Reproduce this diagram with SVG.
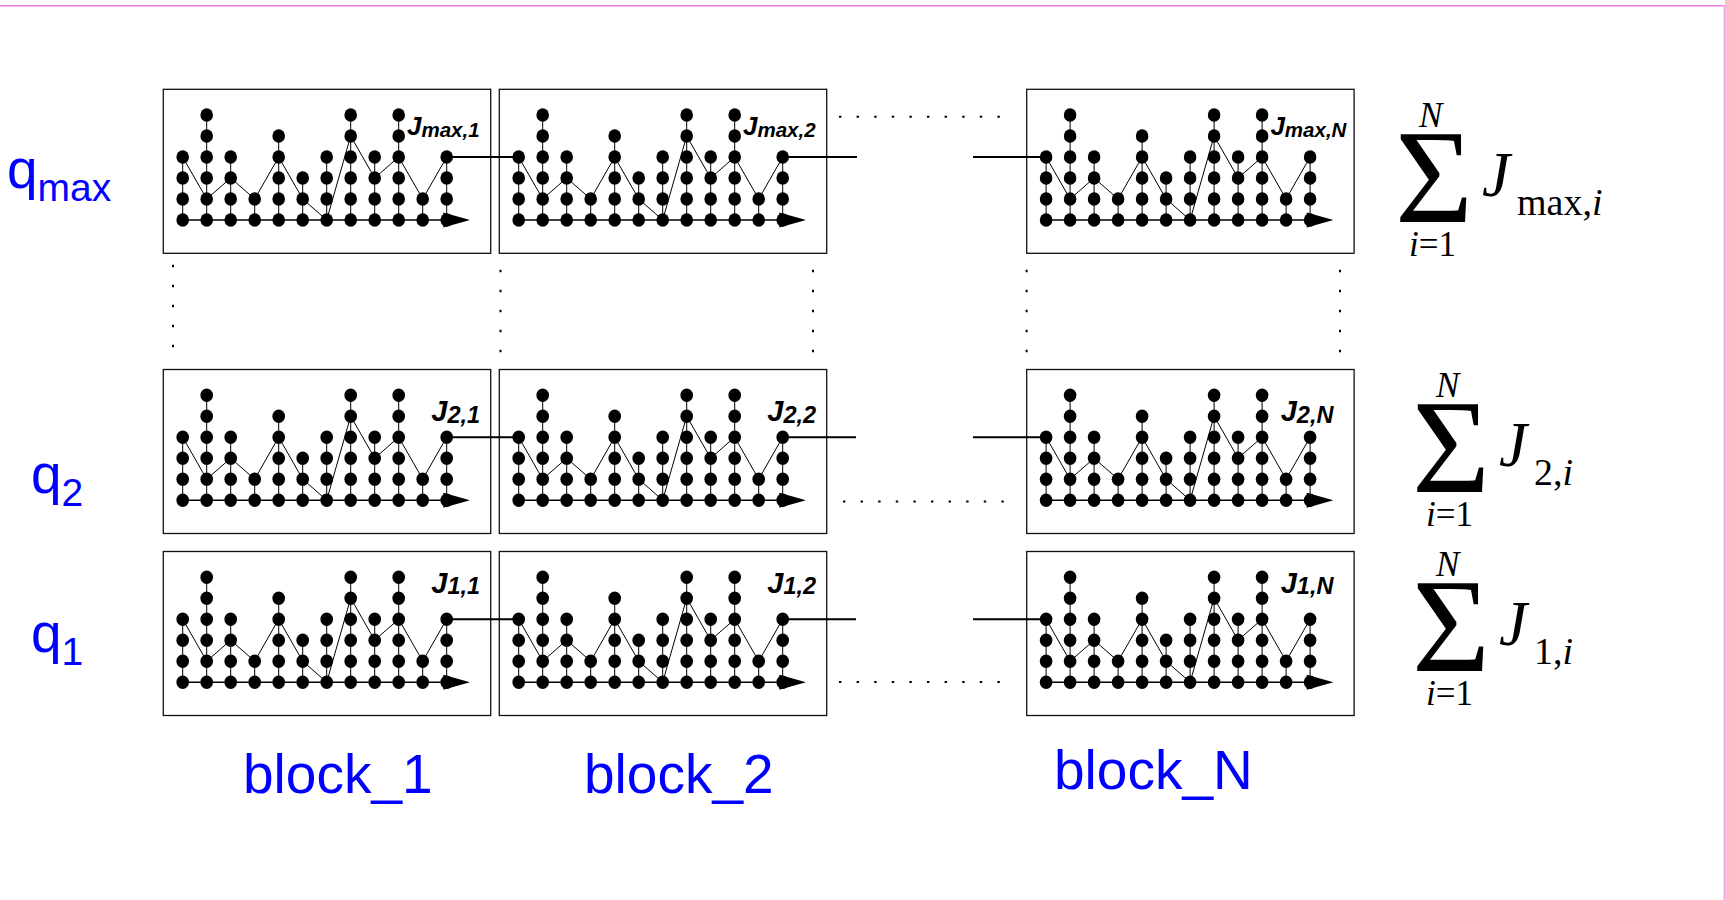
<svg xmlns="http://www.w3.org/2000/svg" xmlns:xlink="http://www.w3.org/1999/xlink" width="1725" height="900" viewBox="0 0 1725 900">
  <style>
    .frame{fill:#fff;stroke:#111;stroke-width:1.3}
    .stem{fill:none;stroke:#000;stroke-width:1}
    .zig{fill:none;stroke:#000;stroke-width:1}
    .axis{fill:none;stroke:#000;stroke-width:1.4}
    .link{fill:none;stroke:#000;stroke-width:2}
    .dots-h{fill:none;stroke:#000;stroke-width:2;stroke-dasharray:2.4 15.2}
    .dots-v{fill:none;stroke:#000;stroke-width:2;stroke-dasharray:2.6 17.4}
    .jl{font-family:"Liberation Sans",Arial,sans-serif;font-weight:bold;font-style:italic;font-size:26px;fill:#000}
    .js{font-size:20.5px}
    .jl2{font-size:29px}
    .js2{font-size:23.5px}
    .blue{font-family:"Liberation Sans",Arial,sans-serif;fill:#0000ff}
    .qm{font-size:55px}
    .qs{font-size:39px}
    .blk{font-size:55px}
    .math{font-family:"Liberation Serif","Times New Roman",serif;fill:#000}
    .it{font-style:italic}
  </style>
  <defs>
    <ellipse id="d" cx="0" cy="0" rx="6.3" ry="6.7" fill="#000"/>
    <!-- one block: frame, 12 stacked columns on an axis, and the path through them -->
    <g id="blockArt">
      <rect class="frame" x="0" y="0" width="327.4" height="164"/>
      <path class="stem" d="M19.4 130.7V67.7M43.4 130.7V25.7M67.4 130.7V67.7M91.4 130.7V109.7M115.4 130.7V46.7M139.4 130.7V88.7M163.4 130.7V67.7M187.4 130.7V25.7M211.4 130.7V67.7M235.4 130.7V25.7M259.4 130.7V109.7M283.4 130.7V67.7"/>
      <path class="axis" d="M19.4 130.7H285"/>
      <polygon points="306.7,130.7 280,123.2 280,138.2" fill="#000"/>
      <polyline class="zig" points="19.4,67.7 43.4,109.7 67.4,88.7 91.4,109.7 115.4,67.7 139.4,109.7 163.4,130.7 187.4,46.7 211.4,88.7 235.4,67.7 259.4,109.7 283.4,67.7"/>
      <!-- column 1 -->
      <use href="#d" x="19.4" y="130.7"/><use href="#d" x="19.4" y="109.7"/><use href="#d" x="19.4" y="88.7"/><use href="#d" x="19.4" y="67.7"/>
      <!-- column 2 -->
      <use href="#d" x="43.4" y="130.7"/><use href="#d" x="43.4" y="109.7"/><use href="#d" x="43.4" y="88.7"/><use href="#d" x="43.4" y="67.7"/><use href="#d" x="43.4" y="46.7"/><use href="#d" x="43.4" y="25.7"/>
      <!-- column 3 -->
      <use href="#d" x="67.4" y="130.7"/><use href="#d" x="67.4" y="109.7"/><use href="#d" x="67.4" y="88.7"/><use href="#d" x="67.4" y="67.7"/>
      <!-- column 4 -->
      <use href="#d" x="91.4" y="130.7"/><use href="#d" x="91.4" y="109.7"/>
      <!-- column 5 -->
      <use href="#d" x="115.4" y="130.7"/><use href="#d" x="115.4" y="109.7"/><use href="#d" x="115.4" y="88.7"/><use href="#d" x="115.4" y="67.7"/><use href="#d" x="115.4" y="46.7"/>
      <!-- column 6 -->
      <use href="#d" x="139.4" y="130.7"/><use href="#d" x="139.4" y="109.7"/><use href="#d" x="139.4" y="88.7"/>
      <!-- column 7 -->
      <use href="#d" x="163.4" y="130.7"/><use href="#d" x="163.4" y="109.7"/><use href="#d" x="163.4" y="88.7"/><use href="#d" x="163.4" y="67.7"/>
      <!-- column 8 -->
      <use href="#d" x="187.4" y="130.7"/><use href="#d" x="187.4" y="109.7"/><use href="#d" x="187.4" y="88.7"/><use href="#d" x="187.4" y="67.7"/><use href="#d" x="187.4" y="46.7"/><use href="#d" x="187.4" y="25.7"/>
      <!-- column 9 -->
      <use href="#d" x="211.4" y="130.7"/><use href="#d" x="211.4" y="109.7"/><use href="#d" x="211.4" y="88.7"/><use href="#d" x="211.4" y="67.7"/>
      <!-- column 10 -->
      <use href="#d" x="235.4" y="130.7"/><use href="#d" x="235.4" y="109.7"/><use href="#d" x="235.4" y="88.7"/><use href="#d" x="235.4" y="67.7"/><use href="#d" x="235.4" y="46.7"/><use href="#d" x="235.4" y="25.7"/>
      <!-- column 11 -->
      <use href="#d" x="259.4" y="130.7"/><use href="#d" x="259.4" y="109.7"/>
      <!-- column 12 -->
      <use href="#d" x="283.4" y="130.7"/><use href="#d" x="283.4" y="109.7"/><use href="#d" x="283.4" y="88.7"/><use href="#d" x="283.4" y="67.7"/>
    </g>
  </defs>

  <rect x="0" y="0" width="1725" height="900" fill="#fff"/>
  <!-- page rules -->
  <line x1="0" y1="5.7" x2="1725" y2="5.7" stroke="#e87de8" stroke-width="1.6"/>
  <line x1="1724.3" y1="5" x2="1724.3" y2="900" stroke="#f2a6f2" stroke-width="1.5"/>

  <!-- row q_max -->
  <g id="block-max-1" transform="translate(163.3,89.3)">
    <use href="#blockArt"/>
    <text class="jl" x="243.7" y="45.7">J<tspan class="js" dy="1.7">max,1</tspan></text>
  </g>
  <g id="block-max-2" transform="translate(499.3,89.3)">
    <use href="#blockArt"/>
    <text class="jl" x="243.7" y="45.7">J<tspan class="js" dy="1.7">max,2</tspan></text>
  </g>
  <g id="block-max-N" transform="translate(1026.7,89.3)">
    <use href="#blockArt"/>
    <text class="jl" x="243.7" y="45.7">J<tspan class="js" dy="1.7">max,N</tspan></text>
  </g>

  <!-- row q_2 -->
  <g id="block-2-1" transform="translate(163.3,369.5)">
    <use href="#blockArt"/>
    <text class="jl jl2" x="268" y="51.5">J<tspan class="js2" dy="1.7">2,1</tspan></text>
  </g>
  <g id="block-2-2" transform="translate(499.3,369.5)">
    <use href="#blockArt"/>
    <text class="jl jl2" x="268" y="51.5">J<tspan class="js2" dy="1.7">2,2</tspan></text>
  </g>
  <g id="block-2-N" transform="translate(1026.7,369.5)">
    <use href="#blockArt"/>
    <text class="jl jl2" x="254" y="51.5">J<tspan class="js2" dy="1.7">2,N</tspan></text>
  </g>

  <!-- row q_1 -->
  <g id="block-1-1" transform="translate(163.3,551.5)">
    <use href="#blockArt"/>
    <text class="jl jl2" x="268" y="41">J<tspan class="js2" dy="1.7">1,1</tspan></text>
  </g>
  <g id="block-1-2" transform="translate(499.3,551.5)">
    <use href="#blockArt"/>
    <text class="jl jl2" x="268" y="41">J<tspan class="js2" dy="1.7">1,2</tspan></text>
  </g>
  <g id="block-1-N" transform="translate(1026.7,551.5)">
    <use href="#blockArt"/>
    <text class="jl jl2" x="254" y="41">J<tspan class="js2" dy="1.7">1,N</tspan></text>
  </g>

  <!-- links between neighbouring blocks and elided parts -->
  <g id="connectors">
    <path class="link" d="M446.7 157H518.7M782.7 157H857M973 157H1046.1"/>
    <path class="link" d="M446.7 437.2H518.7M782.7 437.2H856M973 437.2H1046.1"/>
    <path class="link" d="M446.7 619.2H518.7M782.7 619.2H856M973 619.2H1046.1"/>
    <path class="dots-h" d="M839 116.7H1000M843 501.6H1004M839 682H1000"/>
    <path class="dots-v" d="M173 264.7V350M500.5 269.7V355M813 269.7V355M1026.6 269.7V355M1340 269.7V355"/>
  </g>

  <!-- level labels -->
  <g id="levels" class="blue">
    <text x="7" y="188" class="qm">q<tspan class="qs" dy="13">max</tspan></text>
    <text x="31" y="493" class="qm">q<tspan class="qs" dy="13">2</tspan></text>
    <text x="31" y="652" class="qm">q<tspan class="qs" dy="13">1</tspan></text>
  </g>

  <!-- block labels -->
  <g id="blocks" class="blue blk">
    <text x="243" y="793">block_1</text>
    <text x="584" y="793">block_2</text>
    <text x="1054" y="789">block_N</text>
  </g>

  <!-- per-level sums -->
  <g id="sum-max" class="math">
    <text class="it" x="1419" y="127" font-size="35">N</text>
    <text x="1395" y="222" font-size="134">Σ</text>
    <text class="it" x="1482" y="196" font-size="63">J</text>
    <text x="1517" y="215" font-size="38">max,<tspan class="it">i</tspan></text>
    <text x="1409" y="256" font-size="35"><tspan class="it">i</tspan>=1</text>
  </g>
  <g id="sum-2" class="math" transform="translate(17,270)">
    <text class="it" x="1419" y="127" font-size="35">N</text>
    <text x="1395" y="222" font-size="134">Σ</text>
    <text class="it" x="1482" y="196" font-size="63">J</text>
    <text x="1517" y="215" font-size="38">2,<tspan class="it">i</tspan></text>
    <text x="1409" y="256" font-size="35"><tspan class="it">i</tspan>=1</text>
  </g>
  <g id="sum-1" class="math" transform="translate(17,449)">
    <text class="it" x="1419" y="127" font-size="35">N</text>
    <text x="1395" y="222" font-size="134">Σ</text>
    <text class="it" x="1482" y="196" font-size="63">J</text>
    <text x="1517" y="215" font-size="38">1,<tspan class="it">i</tspan></text>
    <text x="1409" y="256" font-size="35"><tspan class="it">i</tspan>=1</text>
  </g>
</svg>
